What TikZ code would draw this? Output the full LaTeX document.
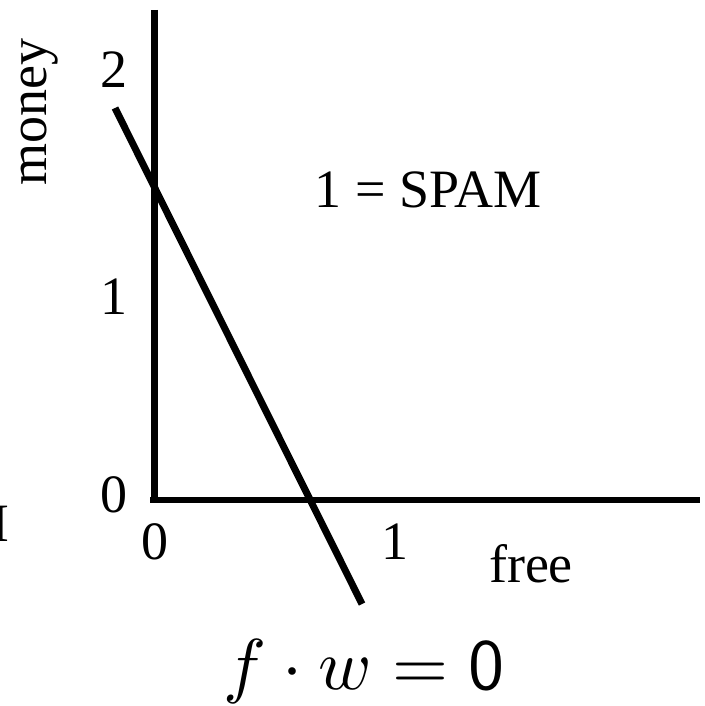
\documentclass[tikz,border=0pt]{standalone}
\usepackage{fontspec}
\setmainfont{Liberation Serif}
\begin{document}
\begin{tikzpicture}[x=1pt,y=-1pt,
  lbl/.style={inner sep=0pt,font=\fontsize{54}{64}\selectfont},
  axis/.style={line width=7pt}]
\useasboundingbox (0,0) rectangle (704,706);
\coordinate (ytop) at (154,10);
\coordinate (orig) at (154,500);
\coordinate (xend) at (700,500);
\coordinate (ltop) at (115,108);
\coordinate (lbot) at (362,604);
\draw[axis] (ytop) -- (154,503);
\draw[line width=6pt] (150,500) -- (xend);
\draw[axis] (ltop) -- (lbot);
\node[lbl,rotate=90] (money) at (40,112) {money};
\node[lbl] (y2) at (114,70) {2};
\node[lbl] (y1) at (114,297) {1};
\node[lbl] (y0) at (114,495) {0};
\node[lbl] (x0) at (155,542) {0};
\node[lbl] (x1) at (395,542) {1};
\node[lbl,anchor=base] (free) at (531,582) {free};
\node[lbl] (spam) at (428,190) {1 = SPAM};
\node[lbl] (iclip) at (0.5,524) {I};
\node[inner sep=0pt,scale=7.2,anchor=base] (eq) at (364,689) {$f\cdot w=\mathsf{0}$};
\end{tikzpicture}
\end{document}
